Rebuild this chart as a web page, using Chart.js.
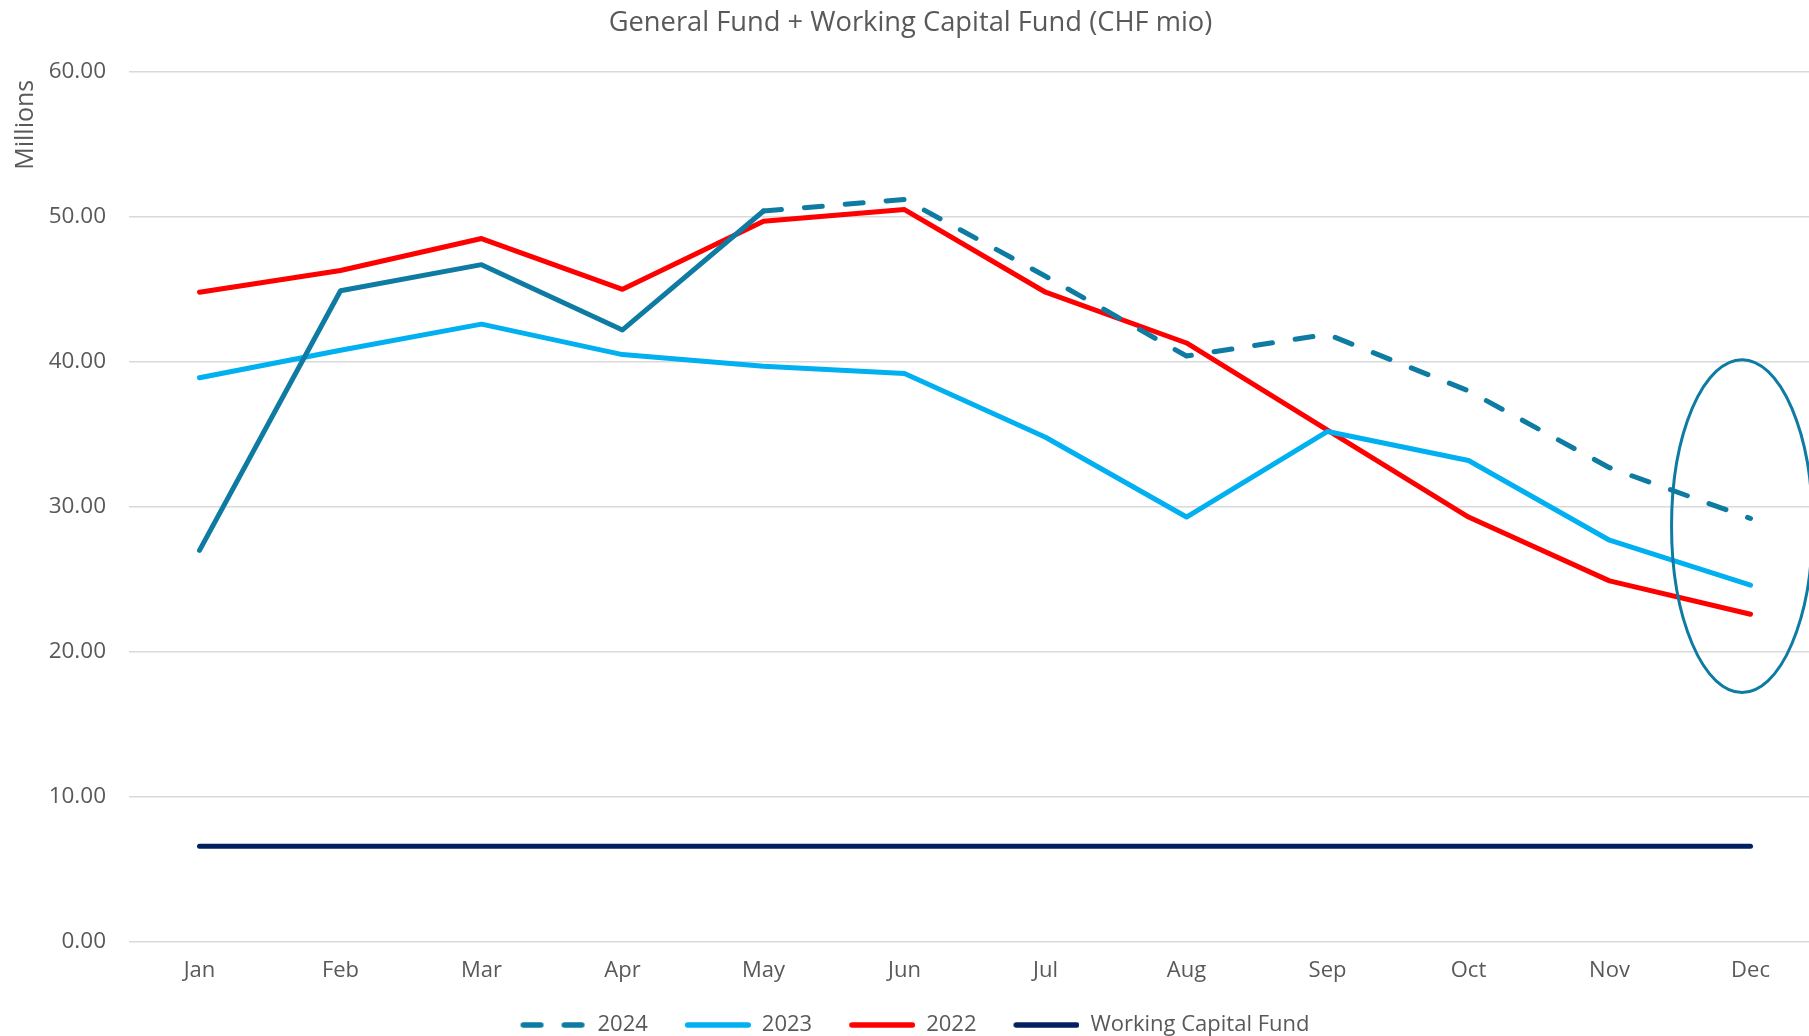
<!DOCTYPE html>
<html>
<head>
<meta charset="utf-8">
<title>General Fund + Working Capital Fund</title>
<script src="https://cdn.jsdelivr.net/npm/chart.js@4/dist/chart.umd.min.js"></script>
<style>
    html, body { margin: 0; padding: 0; background: #ffffff; overflow: hidden; }
    #wrap { width: 1821px; height: 1036px; position: relative; }
</style>
</head>
<body>
<div id="wrap"><canvas id="fundChart"></canvas></div>
<script>
const months = ["Jan", "Feb", "Mar", "Apr", "May", "Jun", "Jul", "Aug", "Sep", "Oct", "Nov", "Dec"];
const fund2024 = [27.0, 44.9, 46.7, 42.2, 50.4, 51.2, 45.9, 40.4, 41.9, 38.0, 32.7, 29.2];
const fund2023 = [38.9, 40.8, 42.6, 40.5, 39.7, 39.2, 34.8, 29.3, 35.2, 33.2, 27.7, 24.6];
const fund2022 = [44.8, 46.3, 48.5, 45.0, 49.7, 50.5, 44.8, 41.3, 35.3, 29.3, 24.9, 22.6];
const workingCapital = [6.6, 6.6, 6.6, 6.6, 6.6, 6.6, 6.6, 6.6, 6.6, 6.6, 6.6, 6.6];
const yTicks = [0, 10, 20, 30, 40, 50, 60];
// 2024 becomes dashed from this month on (forecast part)
const forecastFrom = 4;

const textColor = "#595959";
const gridColor = "#d9d9d9";
const dash = [18, 23];

// legend sample: blank lead-in on the left so the gap after each label is wider
function legendSwatch(color, lineDash) {
    const c = document.createElement("canvas");
    c.width = 75;
    c.height = 8;
    const g = c.getContext("2d");
    g.strokeStyle = color;
    g.lineWidth = 5.5;
    g.lineCap = "round";
    g.setLineDash(lineDash);
    g.beginPath();
    g.moveTo(11.75, 4);
    g.lineTo(72.25, 4);
    g.stroke();
    return c;
}

// ellipse drawn around the December values
const highlightRing = {
    id: "highlightRing",
    afterDatasetsDraw(chart) {
        const { ctx, scales: { x, y } } = chart;
        const cx = x.getPixelForValue(11 - 0.06);
        const rx = x.getPixelForValue(11.5) - x.getPixelForValue(11);
        const top = y.getPixelForValue(40.15);
        const bottom = y.getPixelForValue(17.2);
        ctx.save();
        ctx.beginPath();
        ctx.ellipse(cx, (top + bottom) / 2, rx, (bottom - top) / 2, 0, 0, Math.PI * 2);
        ctx.strokeStyle = "#0e7ba3";
        ctx.lineWidth = 3;
        ctx.stroke();
        ctx.restore();
    }
};

// "Millions" sits a little below the top of the plot, like in Excel
const unitLabel = {
    id: "unitLabel",
    afterDraw(chart) {
        const { ctx, chartArea } = chart;
        ctx.save();
        ctx.translate(25.5, chartArea.top + 8);
        ctx.rotate(-Math.PI / 2);
        ctx.font = "25px 'Open Sans'";
        ctx.fillStyle = textColor;
        ctx.textAlign = "right";
        ctx.textBaseline = "middle";
        ctx.fillText("Millions", 0, 0);
        ctx.restore();
    }
};

const line = (label, data, color) => ({
    label, data,
    borderColor: color,
    backgroundColor: color,
    borderWidth: 5,
    borderCapStyle: "round",
    borderJoinStyle: "round",
    pointRadius: 0,
    pointHoverRadius: 0,
    tension: 0,
    fill: false
});

const ds2024 = line("2024", fund2024, "#0e7ba3");
ds2024.segment = {
    borderDash: ctx => ctx.p0DataIndex >= forecastFrom ? dash : undefined
};

new Chart(document.getElementById("fundChart"), {
    type: "line",
    data: {
        labels: months,
        datasets: [
            ds2024,
            line("2023", fund2023, "#00b0f0"),
            line("2022", fund2022, "#ff0000"),
            line("Working Capital Fund", workingCapital, "#002060")
        ]
    },
    options: {
        responsive: true,
        maintainAspectRatio: false,
        animation: false,
        layout: { padding: { left: 0, right: 0, top: 0, bottom: -10 } },
        plugins: {
            tooltip: { enabled: false },
            title: {
                display: true,
                text: "General Fund + Working Capital Fund (CHF mio)",
                color: textColor,
                font: { family: "Open Sans", size: 27.3, weight: "normal", lineHeight: 1.2 },
                padding: { top: 7, bottom: 32 }
            },
            legend: {
                position: "bottom",
                labels: {
                    color: textColor,
                    font: { family: "Open Sans", size: 22, lineHeight: 1.2 },
                    usePointStyle: true,
                    pointStyleWidth: 75,
                    padding: 28,
                    generateLabels(chart) {
                        return chart.data.datasets.map((d, i) => ({
                            text: d.label,
                            datasetIndex: i,
                            pointStyle: legendSwatch(d.borderColor, i === 0 ? [17.5, 23.5] : []),
                            strokeStyle: d.borderColor,
                            fillStyle: d.borderColor,
                            fontColor: textColor,
                            lineWidth: 0,
                            hidden: false
                        }));
                    }
                }
            }
        },
        scales: {
            x: {
                offset: true,
                grid: { display: false, drawTicks: false },
                border: { display: false },
                ticks: {
                    color: textColor,
                    font: { family: "Open Sans", size: 22 },
                    padding: 16,
                    maxRotation: 0
                },
                afterFit(scale) { scale.height = 44; }
            },
            y: {
                min: 0,
                max: 60,
                afterBuildTicks(scale) { scale.ticks = yTicks.map(v => ({ value: v })); },
                grid: { color: gridColor, lineWidth: 1.6, drawTicks: false },
                border: { display: false },
                ticks: {
                    color: textColor,
                    font: { family: "Open Sans", size: 22.5 },
                    padding: 23,
                    callback: v => v.toFixed(2)
                },
                afterFit(scale) { scale.width = 129; }
            }
        }
    },
    plugins: [highlightRing, unitLabel]
});
</script>
</body>
</html>
